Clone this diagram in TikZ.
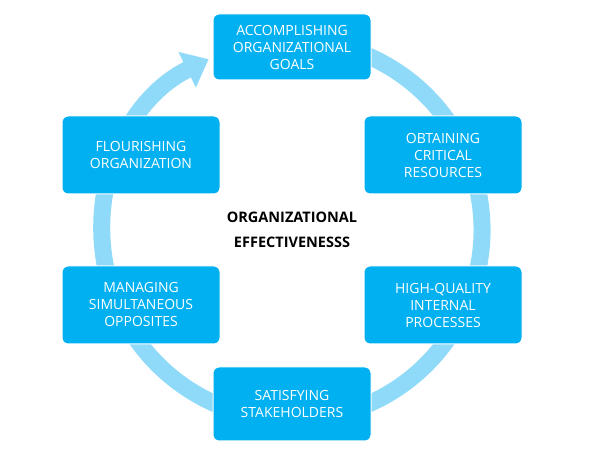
\documentclass[tikz,border=0pt]{standalone}
\usepackage{fontspec}
\setmainfont{Open Sans}
\usetikzlibrary{arrows.meta,positioning}
\definecolor{boxblue}{HTML}{00B0F0}
\definecolor{ringblue}{HTML}{8FDAF8}
\begin{document}
\begin{tikzpicture}[x=1pt,y=1pt,
    goal/.style={rectangle, fill=boxblue, draw=white, line width=1pt, rounded corners=6pt, minimum width=158pt, minimum height=78pt, align=center, text=white, font=\fontsize{14}{17}\selectfont},
    ring/.style={-{Triangle[width=38pt,length=24pt]}, line width=17pt, draw=ringblue, color=ringblue}
]
\useasboundingbox (0,0) rectangle (600,460);
\coordinate (C) at (292,230);
% the cycle ring behind the boxes
\draw[ring] ([shift={(470:190)}]C) arc[start angle=470, end angle=116, radius=190];
\node[goal, minimum height=66pt] (G1) at (292,413) {ACCOMPLISHING\\ORGANIZATIONAL\\GOALS};
\node[goal] (G2) at (443,305) {OBTAINING\\CRITICAL\\RESOURCES};
\node[goal] (G3) at (443,155) {HIGH-QUALITY\\INTERNAL\\PROCESSES};
\node[goal, minimum height=74pt] (G4) at (292,56) {SATISFYING\\STAKEHOLDERS};
\node[goal] (G5) at (141,155) {MANAGING\\SIMULTANEOUS\\OPPOSITES};
\node[goal] (G6) at (141,305) {FLOURISHING\\ORGANIZATION};
\node[align=center, font=\bfseries\fontsize{14.5}{25}\selectfont] (E) at (C) {ORGANIZATIONAL\\EFFECTIVENESSS};
\end{tikzpicture}
\end{document}
